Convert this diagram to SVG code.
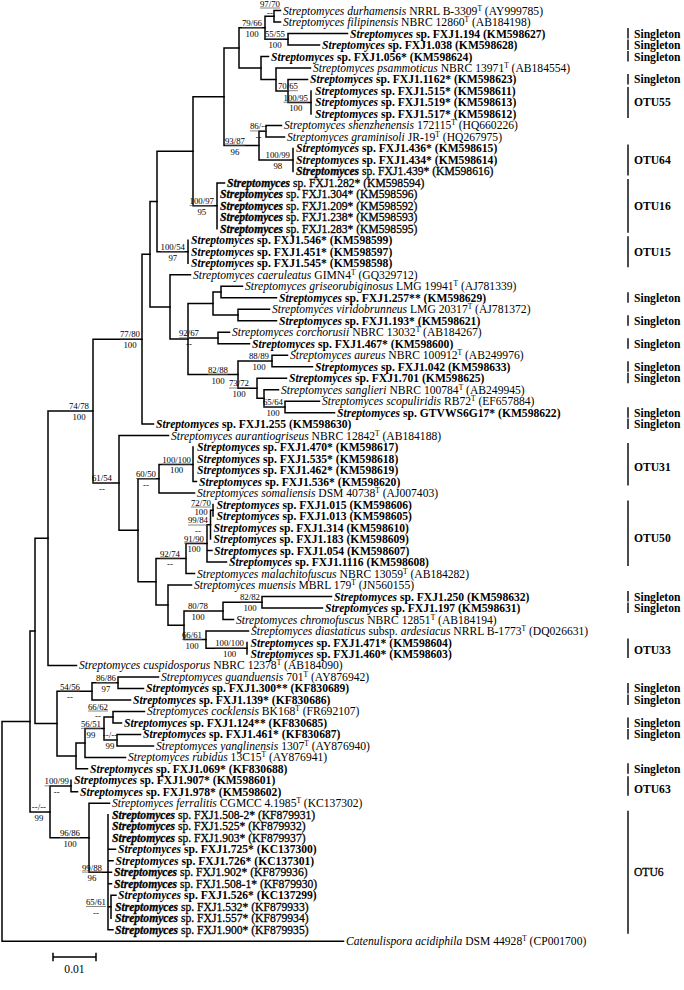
<svg xmlns="http://www.w3.org/2000/svg" width="684" height="990" viewBox="0 0 684 990">
<style>
text{font-family:"Liberation Serif","Times New Roman",serif;fill:#000}
.lf{font-size:11.6px}
.b{font-weight:bold}
.i{font-style:italic}
.m{stroke:#000;stroke-width:0.3}
.sp{font-size:7.4px}
.bs{font-size:8.8px;fill:#333}
.bs .lo{text-anchor:middle}
.bs .up{text-anchor:end}
.br{fill:none;stroke:#000;stroke-width:1.5;stroke-linecap:square}
.fb{stroke:#555;stroke-width:0.7}
.ob{stroke:#000;stroke-width:1.4}
.ol{font-size:11.6px;font-weight:bold}
</style>
<rect width="684" height="990" fill="#fff"/>
<g id="connectors" class="br">
<path d="M2 721.4V941.2M2 721.4H30M2 941.2H343.5"/>
<path d="M30 630.9V811.9M30 630.9H35M30 811.9H50"/>
<path d="M35 538.2V723.6M35 538.2H48M35 723.6H57"/>
<path d="M48 411V665.4M48 411H93M48 665.4H76.5"/>
<path d="M93 339.2V482.9M93 339.2H142M93 482.9H119"/>
<path d="M142 254.2V424.1M142 254.2H150M142 424.1H153.5"/>
<path d="M150 201.5V306.9M150 201.5H157M150 306.9H170"/>
<path d="M157 151.3V251.8M157 151.3H193M157 251.8H188"/>
<path d="M193 96.7V205.8M193 96.7H224M193 205.8H217"/>
<path d="M224 47.9V145.5M224 47.9H239M224 145.5H259"/>
<path d="M239 27.7V68M239 27.7H265M239 68H261"/>
<path d="M265 16.3V39.2M265 16.3H274M265 39.2H288"/>
<path d="M274 10.5V22M274 10.5H280.5M274 22H280.5"/>
<path d="M288 33.5V45M288 33.5H347.5M288 45H319.5"/>
<path d="M261 56.5V79.4M261 56.5H268.5M261 79.4H276"/>
<path d="M276 68V90.9M276 68H310.5M276 90.9H288"/>
<path d="M288 79.4V102.4M288 79.4H307.5M288 102.4H311"/>
<path d="M311 90.9V113.9"/>
<path d="M259 131.2V159.9M259 131.2H266M259 159.9H293"/>
<path d="M266 125.4V136.9M266 125.4H281.5M266 136.9H284.5"/>
<path d="M293 148.4V171.4"/>
<path d="M217 182.9V228.8M217 182.9H224.5"/>
<path d="M188 240.3V263.3"/>
<path d="M170 274.8V339.1M170 274.8H190.5M170 339.1H188"/>
<path d="M188 303.5V374.6M188 303.5H213M188 338H218M188 374.6H238"/>
<path d="M213 292V315M213 292H221M213 315H238"/>
<path d="M221 286.3V297.8M221 286.3H242.5M221 297.8H276.5"/>
<path d="M238 309.2V320.7M238 309.2H269.5M238 320.7H276.5"/>
<path d="M218 332.2V343.7M218 332.2H229.5M218 343.7H249.5"/>
<path d="M238 361V388.2M238 361H272M238 388.2H257"/>
<path d="M272 355.2V366.7M272 355.2H287.5M272 366.7H312.5"/>
<path d="M257 378.2V398.3M257 378.2H286.5M257 398.3H264"/>
<path d="M264 389.7V406.9M264 389.7H278.5M264 406.9H285"/>
<path d="M285 401.2V412.7M285 401.2H319.5M285 412.7H334.5"/>
<path d="M119 435.6V530.3M119 435.6H168.5M119 530.3H138"/>
<path d="M138 478.7V581.8M138 478.7H159M138 581.8H156"/>
<path d="M159 464.4V493.1M159 464.4H193M159 493.1H194.5"/>
<path d="M193 447.1V481.6M193 481.6H196.5"/>
<path d="M156 558.4V605.1M156 558.4H186M156 605.1H168"/>
<path d="M186 543.4V573.5M186 543.4H207M186 573.5H194.5"/>
<path d="M207 524.7V562M207 524.7H210.5M207 550.5H212M207 562H226.5"/>
<path d="M210.5 510.3V539M210.5 510.3H213"/>
<path d="M213 504.6V516.1"/>
<path d="M168 585V625.2M168 585H191.5M168 625.2H184"/>
<path d="M184 610.9V639.6M184 610.9H223M184 639.6H206"/>
<path d="M223 602.2V619.5M223 602.2H262M223 619.5H233.5"/>
<path d="M262 596.5V608M262 596.5H331.5M262 608H322.5"/>
<path d="M206 631V648.2M206 631H248.5M206 648.2H247"/>
<path d="M247 642.5V653.9"/>
<path d="M57 691.3V755.9M57 691.3H92M57 755.9H76"/>
<path d="M92 682.7V699.9M92 682.7H118M92 699.9H130.5"/>
<path d="M118 676.9V688.4M118 676.9H158.5M118 688.4H143.5"/>
<path d="M76 743V768.8M76 743H85M76 768.8H87.5"/>
<path d="M85 728.6V757.4M85 728.6H104M85 757.4H125.5"/>
<path d="M104 717.1V740.1M104 717.1H113M104 740.1H117"/>
<path d="M113 711.4V722.9M113 711.4H144.5M113 722.9H121.5"/>
<path d="M117 734.4V745.9M117 734.4H140.5M117 745.9H153.5"/>
<path d="M50 786.1V837.8M50 786.1H71M50 837.8H89"/>
<path d="M71 780.3V791.8M71 791.8H77.5"/>
<path d="M89 803.3V872.3M89 803.3H109.5M89 872.3H108"/>
<path d="M108 814.8V929.7M108 849.3H115.5M108 860.8H113M108 872.3H111.5M108 883.7H111.5M108 906.7H111M108 929.7H113"/>
<path d="M111 895.2V918.2M111 895.2H116"/>
</g>
<g id="leaves">
<g id="L01"><text class="lf" x="283" y="14.5"><tspan class="i">Streptomyces durhamensis</tspan> NRRL B-3309<tspan class="sp" dy="-4">T</tspan><tspan dy="4"> (AY999785)</tspan></text></g>
<g id="L02"><text class="lf" x="283" y="26"><tspan class="i">Streptomyces filipinensis</tspan> NBRC 12860<tspan class="sp" dy="-4">T</tspan><tspan dy="4"> (AB184198)</tspan></text></g>
<g id="L03"><text class="lf b" x="350" y="37.5"><tspan class="i">Streptomyces</tspan> sp. FXJ1.194 (KM598627)</text></g>
<g id="L04"><text class="lf b" x="322" y="49"><tspan class="i">Streptomyces</tspan> sp. FXJ1.038 (KM598628)</text></g>
<g id="L05"><text class="lf b" x="271" y="60.5"><tspan class="i">Streptomyces</tspan> sp. FXJ1.056* (KM598624)</text></g>
<g id="L06"><text class="lf" x="313" y="72"><tspan class="i">Streptomyces psammoticus</tspan> NBRC 13971<tspan class="sp" dy="-4">T</tspan><tspan dy="4"> (AB184554)</tspan></text></g>
<g id="L07"><text class="lf b" x="310" y="83.4"><tspan class="i">Streptomyces</tspan> sp. FXJ1.1162* (KM598623)</text></g>
<g id="L08"><text class="lf b" x="315" y="94.9"><tspan class="i">Streptomyces</tspan> sp. FXJ1.515* (KM598611)</text></g>
<g id="L09"><text class="lf b" x="315" y="106.4"><tspan class="i">Streptomyces</tspan> sp. FXJ1.519* (KM598613)</text></g>
<g id="L10"><text class="lf b" x="315" y="117.9"><tspan class="i">Streptomyces</tspan> sp. FXJ1.517* (KM598612)</text></g>
<g id="L11"><text class="lf" x="284" y="129.4"><tspan class="i">Streptomyces shenzhenensis</tspan> 172115<tspan class="sp" dy="-4">T</tspan><tspan dy="4"> (HQ660226)</tspan></text></g>
<g id="L12"><text class="lf" x="287" y="140.9"><tspan class="i">Streptomyces graminisoli</tspan> JR-19<tspan class="sp" dy="-4">T</tspan><tspan dy="4"> (HQ267975)</tspan></text></g>
<g id="L13"><text class="lf b" x="296" y="152.4"><tspan class="i">Streptomyces</tspan> sp. FXJ1.436* (KM598615)</text></g>
<g id="L14"><text class="lf b" x="296" y="163.9"><tspan class="i">Streptomyces</tspan> sp. FXJ1.434* (KM598614)</text></g>
<g id="L15"><text class="lf m" x="296" y="175.4"><tspan class="b i">Streptomyces</tspan> sp. FXJ1.439* (KM598616)</text></g>
<g id="L16"><text class="lf m" x="227" y="186.9"><tspan class="b i">Streptomyces</tspan> sp. FXJ1.282* (KM598594)</text></g>
<g id="L17"><text class="lf m" x="220" y="198.3"><tspan class="b i">Streptomyces</tspan> sp. FXJ1.304* (KM598596)</text></g>
<g id="L18"><text class="lf m" x="220" y="209.8"><tspan class="b i">Streptomyces</tspan> sp. FXJ1.209* (KM598592)</text></g>
<g id="L19"><text class="lf m" x="220" y="221.3"><tspan class="b i">Streptomyces</tspan> sp. FXJ1.238* (KM598593)</text></g>
<g id="L20"><text class="lf m" x="220" y="232.8"><tspan class="b i">Streptomyces</tspan> sp. FXJ1.283* (KM598595)</text></g>
<g id="L21"><text class="lf b" x="191" y="244.3"><tspan class="i">Streptomyces</tspan> sp. FXJ1.546* (KM598599)</text></g>
<g id="L22"><text class="lf b" x="191" y="255.8"><tspan class="i">Streptomyces</tspan> sp. FXJ1.451* (KM598597)</text></g>
<g id="L23"><text class="lf b" x="191" y="267.3"><tspan class="i">Streptomyces</tspan> sp. FXJ1.545* (KM598598)</text></g>
<g id="L24"><text class="lf" x="193" y="278.8"><tspan class="i">Streptomyces caeruleatus</tspan> GIMN4<tspan class="sp" dy="-4">T</tspan><tspan dy="4"> (GQ329712)</tspan></text></g>
<g id="L25"><text class="lf" x="245" y="290.3"><tspan class="i">Streptomyces griseorubiginosus</tspan> LMG 19941<tspan class="sp" dy="-4">T</tspan><tspan dy="4"> (AJ781339)</tspan></text></g>
<g id="L26"><text class="lf b" x="279" y="301.8"><tspan class="i">Streptomyces</tspan> sp. FXJ1.257** (KM598629)</text></g>
<g id="L27"><text class="lf" x="272" y="313.2"><tspan class="i">Streptomyces viridobrunneus</tspan> LMG 20317<tspan class="sp" dy="-4">T</tspan><tspan dy="4"> (AJ781372)</tspan></text></g>
<g id="L28"><text class="lf b" x="279" y="324.7"><tspan class="i">Streptomyces</tspan> sp. FXJ1.193* (KM598621)</text></g>
<g id="L29"><text class="lf" x="232" y="336.2"><tspan class="i">Streptomyces corchorusii</tspan> NBRC 13032<tspan class="sp" dy="-4">T</tspan><tspan dy="4"> (AB184267)</tspan></text></g>
<g id="L30"><text class="lf b" x="252" y="347.7"><tspan class="i">Streptomyces</tspan> sp. FXJ1.467* (KM598600)</text></g>
<g id="L31"><text class="lf" x="290" y="359.2"><tspan class="i">Streptomyces aureus</tspan> NBRC 100912<tspan class="sp" dy="-4">T</tspan><tspan dy="4"> (AB249976)</tspan></text></g>
<g id="L32"><text class="lf b" x="315" y="370.7"><tspan class="i">Streptomyces</tspan> sp. FXJ1.042 (KM598633)</text></g>
<g id="L33"><text class="lf b" x="289" y="382.2"><tspan class="i">Streptomyces</tspan> sp. FXJ1.701 (KM598625)</text></g>
<g id="L34"><text class="lf" x="281" y="393.7"><tspan class="i">Streptomyces sanglieri</tspan> NBRC 100784<tspan class="sp" dy="-4">T</tspan><tspan dy="4"> (AB249945)</tspan></text></g>
<g id="L35"><text class="lf" x="322" y="405.2"><tspan class="i">Streptomyces scopuliridis</tspan> RB72<tspan class="sp" dy="-4">T</tspan><tspan dy="4"> (EF657884)</tspan></text></g>
<g id="L36"><text class="lf b" x="337" y="416.7"><tspan class="i">Streptomyces</tspan> sp. GTVWS6G17* (KM598622)</text></g>
<g id="L37"><text class="lf b" x="156" y="428.1"><tspan class="i">Streptomyces</tspan> sp. FXJ1.255 (KM598630)</text></g>
<g id="L38"><text class="lf" x="171" y="439.6"><tspan class="i">Streptomyces aurantiogriseus</tspan> NBRC 12842<tspan class="sp" dy="-4">T</tspan><tspan dy="4"> (AB184188)</tspan></text></g>
<g id="L39"><text class="lf b" x="197" y="451.1"><tspan class="i">Streptomyces</tspan> sp. FXJ1.470* (KM598617)</text></g>
<g id="L40"><text class="lf b" x="197" y="462.6"><tspan class="i">Streptomyces</tspan> sp. FXJ1.535* (KM598618)</text></g>
<g id="L41"><text class="lf b" x="197" y="474.1"><tspan class="i">Streptomyces</tspan> sp. FXJ1.462* (KM598619)</text></g>
<g id="L42"><text class="lf b" x="199" y="485.6"><tspan class="i">Streptomyces</tspan> sp. FXJ1.536* (KM598620)</text></g>
<g id="L43"><text class="lf" x="197" y="497.1"><tspan class="i">Streptomyces somaliensis</tspan> DSM 40738<tspan class="sp" dy="-4">T</tspan><tspan dy="4"> (AJ007403)</tspan></text></g>
<g id="L44"><text class="lf b" x="216.5" y="508.6"><tspan class="i">Streptomyces</tspan> sp. FXJ1.015 (KM598606)</text></g>
<g id="L45"><text class="lf b" x="216.5" y="520.1"><tspan class="i">Streptomyces</tspan> sp. FXJ1.013 (KM598605)</text></g>
<g id="L46"><text class="lf b" x="213.5" y="531.6"><tspan class="i">Streptomyces</tspan> sp. FXJ1.314 (KM598610)</text></g>
<g id="L47"><text class="lf b" x="213.5" y="543"><tspan class="i">Streptomyces</tspan> sp. FXJ1.183 (KM598609)</text></g>
<g id="L48"><text class="lf b" x="214" y="554.5"><tspan class="i">Streptomyces</tspan> sp. FXJ1.054 (KM598607)</text></g>
<g id="L49"><text class="lf b" x="229" y="566"><tspan class="i">Streptomyces</tspan> sp. FXJ1.1116 (KM598608)</text></g>
<g id="L50"><text class="lf" x="197" y="577.5"><tspan class="i">Streptomyces malachitofuscus</tspan> NBRC 13059<tspan class="sp" dy="-4">T</tspan><tspan dy="4"> (AB184282)</tspan></text></g>
<g id="L51"><text class="lf" x="194" y="589"><tspan class="i">Streptomyces muensis</tspan> MBRL 179<tspan class="sp" dy="-4">T</tspan><tspan dy="4"> (JN560155)</tspan></text></g>
<g id="L52"><text class="lf b" x="334" y="600.5"><tspan class="i">Streptomyces</tspan> sp. FXJ1.250 (KM598632)</text></g>
<g id="L53"><text class="lf b" x="325" y="612"><tspan class="i">Streptomyces</tspan> sp. FXJ1.197 (KM598631)</text></g>
<g id="L54"><text class="lf" x="236" y="623.5"><tspan class="i">Streptomyces chromofuscus</tspan> NBRC 12851<tspan class="sp" dy="-4">T</tspan><tspan dy="4"> (AB184194)</tspan></text></g>
<g id="L55"><text class="lf" x="251" y="635"><tspan class="i">Streptomyces diastaticus</tspan> subsp. <tspan class="i">ardesiacus</tspan> NRRL B-1773<tspan class="sp" dy="-4">T</tspan><tspan dy="4"> (DQ026631)</tspan></text></g>
<g id="L56"><text class="lf b" x="250.5" y="646.5"><tspan class="i">Streptomyces</tspan> sp. FXJ1.471* (KM598604)</text></g>
<g id="L57"><text class="lf b" x="250.5" y="657.9"><tspan class="i">Streptomyces</tspan> sp. FXJ1.460* (KM598603)</text></g>
<g id="L58"><text class="lf" x="79" y="669.4"><tspan class="i">Streptomyces cuspidosporus</tspan> NBRC 12378<tspan class="sp" dy="-4">T</tspan><tspan dy="4"> (AB184090)</tspan></text></g>
<g id="L59"><text class="lf" x="161" y="680.9"><tspan class="i">Streptomyces guanduensis</tspan> 701<tspan class="sp" dy="-4">T</tspan><tspan dy="4"> (AY876942)</tspan></text></g>
<g id="L60"><text class="lf b" x="146" y="692.4"><tspan class="i">Streptomyces</tspan> sp. FXJ1.300** (KF830689)</text></g>
<g id="L61"><text class="lf b" x="133" y="703.9"><tspan class="i">Streptomyces</tspan> sp. FXJ1.139* (KF830686)</text></g>
<g id="L62"><text class="lf" x="147" y="715.4"><tspan class="i">Streptomyces cocklensis</tspan> BK168<tspan class="sp" dy="-4">T</tspan><tspan dy="4"> (FR692107)</tspan></text></g>
<g id="L63"><text class="lf b" x="124" y="726.9"><tspan class="i">Streptomyces</tspan> sp. FXJ1.124** (KF830685)</text></g>
<g id="L64"><text class="lf b" x="143" y="738.4"><tspan class="i">Streptomyces</tspan> sp. FXJ1.461* (KF830687)</text></g>
<g id="L65"><text class="lf" x="156" y="749.9"><tspan class="i">Streptomyces yanglinensis</tspan> 1307<tspan class="sp" dy="-4">T</tspan><tspan dy="4"> (AY876940)</tspan></text></g>
<g id="L66"><text class="lf" x="128" y="761.4"><tspan class="i">Streptomyces rubidus</tspan> 13C15<tspan class="sp" dy="-4">T</tspan><tspan dy="4"> (AY876941)</tspan></text></g>
<g id="L67"><text class="lf b" x="90" y="772.8"><tspan class="i">Streptomyces</tspan> sp. FXJ1.069* (KF830688)</text></g>
<g id="L68"><text class="lf b" x="74" y="784.3"><tspan class="i">Streptomyces</tspan> sp. FXJ1.907* (KM598601)</text></g>
<g id="L69"><text class="lf b" x="80" y="795.8"><tspan class="i">Streptomyces</tspan> sp. FXJ1.978* (KM598602)</text></g>
<g id="L70"><text class="lf" x="112" y="807.3"><tspan class="i">Streptomyces ferralitis</tspan> CGMCC 4.1985<tspan class="sp" dy="-4">T</tspan><tspan dy="4"> (KC137302)</tspan></text></g>
<g id="L71"><text class="lf m" x="112" y="818.8"><tspan class="b i">Streptomyces</tspan> sp. FXJ1.508-2* (KF879931)</text></g>
<g id="L72"><text class="lf m" x="112" y="830.3"><tspan class="b i">Streptomyces</tspan> sp. FXJ1.525* (KF879932)</text></g>
<g id="L73"><text class="lf m" x="112" y="841.8"><tspan class="b i">Streptomyces</tspan> sp. FXJ1.903* (KF879937)</text></g>
<g id="L74"><text class="lf b" x="118" y="853.3"><tspan class="i">Streptomyces</tspan> sp. FXJ1.725* (KC137300)</text></g>
<g id="L75"><text class="lf b" x="115.5" y="864.8"><tspan class="i">Streptomyces</tspan> sp. FXJ1.726* (KC137301)</text></g>
<g id="L76"><text class="lf m" x="114" y="876.3"><tspan class="b i">Streptomyces</tspan> sp. FXJ1.902* (KF879936)</text></g>
<g id="L77"><text class="lf m" x="114" y="887.7"><tspan class="b i">Streptomyces</tspan> sp. FXJ1.508-1* (KF879930)</text></g>
<g id="L78"><text class="lf b" x="118" y="899.2"><tspan class="i">Streptomyces</tspan> sp. FXJ1.526* (KC137299)</text></g>
<g id="L79"><text class="lf m" x="115" y="910.7"><tspan class="b i">Streptomyces</tspan> sp. FXJ1.532* (KF879933)</text></g>
<g id="L80"><text class="lf m" x="115" y="922.2"><tspan class="b i">Streptomyces</tspan> sp. FXJ1.557* (KF879934)</text></g>
<g id="L81"><text class="lf m" x="115" y="933.7"><tspan class="b i">Streptomyces</tspan> sp. FXJ1.900* (KF879935)</text></g>
<g id="L82"><text class="lf" x="346" y="945.2"><tspan class="i">Catenulispora acidiphila</tspan> DSM 44928<tspan class="sp" dy="-4">T</tspan><tspan dy="4"> (CP001700)</tspan></text></g>
</g>
<g id="support" class="bs">
<g id="s-n1"><text class="up" x="280" y="6.5">97/70</text><line class="fb" x1="260" y1="8" x2="280" y2="8"/><text class="lo" x="270" y="15.5">--</text></g>
<g id="s-n3"><text class="up" x="262" y="25.9">79/66</text><line class="fb" x1="242" y1="27.5" x2="262" y2="27.5"/><text class="lo" x="252" y="36.7">100</text></g>
<g id="s-n2"><text class="up" x="285" y="37.4">55/55</text><line class="fb" x1="265" y1="39" x2="285" y2="39"/><text class="lo" x="275" y="48.2">100</text></g>
<g id="s-n5"><text class="up" x="298" y="89.1">70/65</text><line class="fb" x1="278" y1="90.7" x2="298" y2="90.7"/></g>
<g id="s-n4"><text class="up" x="308" y="100.6">100/95</text><line class="fb" x1="283.5" y1="102.2" x2="308" y2="102.2"/><text class="lo" x="295.8" y="111.4">100</text></g>
<g id="s-n9"><text class="up" x="267" y="129.3">86/--</text><line class="fb" x1="250" y1="130.9" x2="267" y2="130.9"/><text class="lo" x="258.5" y="140.2">--</text></g>
<g id="s-n11"><text class="up" x="245" y="143.7">93/87</text><line class="fb" x1="225" y1="145.3" x2="245" y2="145.3"/><text class="lo" x="235" y="154.5">96</text></g>
<g id="s-n10"><text class="up" x="290" y="158">100/99</text><line class="fb" x1="265.5" y1="159.6" x2="290" y2="159.6"/><text class="lo" x="277.8" y="168.9">98</text></g>
<g id="s-n13"><text class="up" x="214" y="204">100/97</text><line class="fb" x1="189.5" y1="205.6" x2="214" y2="205.6"/><text class="lo" x="201.8" y="214.8">95</text></g>
<g id="s-n15"><text class="up" x="185" y="250">100/54</text><line class="fb" x1="160.5" y1="251.6" x2="185" y2="251.6"/><text class="lo" x="172.8" y="260.8">97</text></g>
<g id="s-n21"><text class="up" x="199" y="336.2">92/67</text><line class="fb" x1="179" y1="337.8" x2="199" y2="337.8"/><text class="lo" x="189" y="347">--</text></g>
<g id="s-n26"><text class="up" x="269" y="359.1">88/89</text><line class="fb" x1="249" y1="360.7" x2="269" y2="360.7"/><text class="lo" x="259" y="370">100</text></g>
<g id="s-n25"><text class="up" x="228" y="372.8">82/88</text><line class="fb" x1="208" y1="374.4" x2="228" y2="374.4"/><text class="lo" x="218" y="383.6">100</text></g>
<g id="s-n27"><text class="up" x="249" y="386.4">73/72</text><line class="fb" x1="229" y1="388" x2="249" y2="388"/><text class="lo" x="239" y="397.2">100</text></g>
<g id="s-n29"><text class="up" x="283" y="405.1">65/64</text><line class="fb" x1="263" y1="406.7" x2="283" y2="406.7"/><text class="lo" x="273" y="415.9">100</text></g>
<g id="s-n7780"><text class="up" x="140" y="337.4">77/80</text><line class="fb" x1="120" y1="339" x2="140" y2="339"/><text class="lo" x="130" y="348.2">100</text></g>
<g id="s-n7478"><text class="up" x="89" y="409.2">74/78</text><line class="fb" x1="69" y1="410.8" x2="89" y2="410.8"/><text class="lo" x="79" y="420">100</text></g>
<g id="s-n31"><text class="up" x="191" y="462.6">100/100</text><line class="fb" x1="162" y1="464.2" x2="191" y2="464.2"/><text class="lo" x="176.6" y="473.4">100</text></g>
<g id="s-n6050"><text class="up" x="156" y="476.9">60/50</text><line class="fb" x1="136" y1="478.5" x2="156" y2="478.5"/><text class="lo" x="146" y="487.7">--</text></g>
<g id="s-n6154"><text class="up" x="112" y="481.1">61/54</text><line class="fb" x1="92" y1="482.7" x2="112" y2="482.7"/><text class="lo" x="102" y="491.9">--</text></g>
<g id="s-n7270"><text class="up" x="211" y="505.5">72/70</text><line class="fb" x1="191" y1="507" x2="211" y2="507"/><text class="lo" x="201" y="515">100</text></g>
<g id="s-n9984"><text class="up" x="208" y="523.4">99/84</text><line class="fb" x1="188" y1="525" x2="208" y2="525"/><text class="lo" x="198" y="534">--</text></g>
<g id="s-n9190"><text class="up" x="204" y="541.5">91/90</text><line class="fb" x1="184" y1="543.1" x2="204" y2="543.1"/><text class="lo" x="194" y="552.3">100</text></g>
<g id="s-n9274"><text class="up" x="180" y="556.6">92/74</text><line class="fb" x1="160" y1="558.2" x2="180" y2="558.2"/><text class="lo" x="170" y="567.4">--</text></g>
<g id="s-n8282"><text class="up" x="260" y="600.4">82/82</text><line class="fb" x1="240" y1="602" x2="260" y2="602"/><text class="lo" x="250" y="611.2">100</text></g>
<g id="s-n8078"><text class="up" x="208" y="609">80/78</text><line class="fb" x1="188" y1="610.6" x2="208" y2="610.6"/><text class="lo" x="198" y="619.8">100</text></g>
<g id="s-n6661"><text class="up" x="202" y="637.8">66/61</text><line class="fb" x1="182" y1="639.4" x2="202" y2="639.4"/><text class="lo" x="192" y="648.6">100</text></g>
<g id="s-n33"><text class="up" x="244" y="646.4">100/100</text><line class="fb" x1="215" y1="648" x2="244" y2="648"/><text class="lo" x="229.6" y="657.2">100</text></g>
<g id="s-n8686"><text class="up" x="116" y="680.9">86/86</text><line class="fb" x1="96" y1="682.5" x2="116" y2="682.5"/><text class="lo" x="106" y="691.7">97</text></g>
<g id="s-n5456"><text class="up" x="80" y="689.5">54/56</text><line class="fb" x1="60" y1="691.1" x2="80" y2="691.1"/><text class="lo" x="70" y="700.3">--</text></g>
<g id="s-n6662"><text class="up" x="108" y="709.5">66/62</text><line class="fb" x1="88" y1="711" x2="108" y2="711"/><text class="lo" x="98" y="718.5">--</text></g>
<g id="s-n5651"><text class="up" x="101" y="726.8">56/51</text><line class="fb" x1="81" y1="728.4" x2="101" y2="728.4"/><text class="lo" x="91" y="737.6">99</text></g>
<g id="s-n461"><text class="up" x="117" y="738.3">--/--</text><line class="fb" x1="103" y1="739.9" x2="117" y2="739.9"/><text class="lo" x="110" y="749.1">99</text></g>
<g id="s-n63"><text class="up" x="69" y="784.3">100/99</text><line class="fb" x1="44.5" y1="785.9" x2="69" y2="785.9"/><text class="lo" x="56.8" y="795.1">--</text></g>
<g id="s-nF"><text class="up" x="46" y="810.1">--/--</text><line class="fb" x1="32" y1="811.7" x2="46" y2="811.7"/><text class="lo" x="39" y="820.9">99</text></g>
<g id="s-n9686"><text class="up" x="80" y="836">96/86</text><line class="fb" x1="60" y1="837.6" x2="80" y2="837.6"/><text class="lo" x="70" y="846.8">100</text></g>
<g id="s-n6"><text class="up" x="102" y="870.5">99/88</text><line class="fb" x1="82" y1="872.1" x2="102" y2="872.1"/><text class="lo" x="92" y="881.3">96</text></g>
<g id="s-n6561"><text class="up" x="106" y="904.9">65/61</text><line class="fb" x1="86" y1="906.5" x2="106" y2="906.5"/><text class="lo" x="96" y="915.7">--</text></g>
</g>
<g id="otus">
<g id="single-L03"><line class="ob" x1="628" y1="28" x2="628" y2="38.5"/><text class="ol" x="634" y="37.5">Singleton</text></g>
<g id="single-L04"><line class="ob" x1="628" y1="39.5" x2="628" y2="50"/><text class="ol" x="634" y="49">Singleton</text></g>
<g id="single-L05"><line class="ob" x1="628" y1="51" x2="628" y2="61.5"/><text class="ol" x="634" y="60.5">Singleton</text></g>
<g id="single-L07"><line class="ob" x1="628" y1="74" x2="628" y2="84.5"/><text class="ol" x="634" y="83.4">Singleton</text></g>
<g id="otu55"><line class="ob" x1="628" y1="86.9" x2="628" y2="117.9"/><text class="ol" x="634" y="106.4">OTU55</text></g>
<g id="otu64"><line class="ob" x1="628" y1="144.4" x2="628" y2="175.4"/><text class="ol" x="634" y="163.9">OTU64</text></g>
<g id="otu16"><line class="ob" x1="628" y1="178.9" x2="628" y2="232.8"/><text class="ol" x="634" y="209.8">OTU16</text></g>
<g id="otu15"><line class="ob" x1="628" y1="236.3" x2="628" y2="267.3"/><text class="ol" x="634" y="255.8">OTU15</text></g>
<g id="single-L26"><line class="ob" x1="628" y1="292.3" x2="628" y2="302.8"/><text class="ol" x="634" y="301.8">Singleton</text></g>
<g id="single-L28"><line class="ob" x1="628" y1="315.2" x2="628" y2="325.7"/><text class="ol" x="634" y="324.7">Singleton</text></g>
<g id="single-L30"><line class="ob" x1="628" y1="338.2" x2="628" y2="348.7"/><text class="ol" x="634" y="347.7">Singleton</text></g>
<g id="single-L32"><line class="ob" x1="628" y1="361.2" x2="628" y2="371.7"/><text class="ol" x="634" y="370.7">Singleton</text></g>
<g id="single-L33"><line class="ob" x1="628" y1="372.7" x2="628" y2="383.2"/><text class="ol" x="634" y="382.2">Singleton</text></g>
<g id="single-L36"><line class="ob" x1="628" y1="407.2" x2="628" y2="417.7"/><text class="ol" x="634" y="416.7">Singleton</text></g>
<g id="single-L37"><line class="ob" x1="628" y1="418.6" x2="628" y2="429.1"/><text class="ol" x="634" y="428.1">Singleton</text></g>
<g id="otu31"><line class="ob" x1="628" y1="443.1" x2="628" y2="485.6"/><text class="ol" x="634" y="471">OTU31</text></g>
<g id="otu50"><line class="ob" x1="628" y1="500.6" x2="628" y2="566"/><text class="ol" x="634" y="542">OTU50</text></g>
<g id="single-L52"><line class="ob" x1="628" y1="591" x2="628" y2="601.5"/><text class="ol" x="634" y="600.5">Singleton</text></g>
<g id="single-L53"><line class="ob" x1="628" y1="602.5" x2="628" y2="613"/><text class="ol" x="634" y="612">Singleton</text></g>
<g id="otu33"><line class="ob" x1="628" y1="638.5" x2="628" y2="658"/><text class="ol" x="634" y="654">OTU33</text></g>
<g id="single-L60"><line class="ob" x1="628" y1="682.9" x2="628" y2="693.4"/><text class="ol" x="634" y="692.4">Singleton</text></g>
<g id="single-L61"><line class="ob" x1="628" y1="694.4" x2="628" y2="704.9"/><text class="ol" x="634" y="703.9">Singleton</text></g>
<g id="single-L63"><line class="ob" x1="628" y1="717.4" x2="628" y2="727.9"/><text class="ol" x="634" y="726.9">Singleton</text></g>
<g id="single-L64"><line class="ob" x1="628" y1="728.9" x2="628" y2="739.4"/><text class="ol" x="634" y="738.4">Singleton</text></g>
<g id="single-L67"><line class="ob" x1="628" y1="763.3" x2="628" y2="773.8"/><text class="ol" x="634" y="772.8">Singleton</text></g>
<g id="otu63"><line class="ob" x1="628" y1="776.3" x2="628" y2="795.8"/><text class="ol" x="634" y="793">OTU63</text></g>
<g id="otu6"><line class="ob" x1="628" y1="810.8" x2="628" y2="933.7"/><text class="lf m" x="634" y="876.3">OTU6</text></g>
</g>
<g id="scalebar">
<path class="br" d="M53 957H96M53 953.5V960.5M96 953.5V960.5"/>
<text class="lf" x="74.5" y="973" text-anchor="middle">0.01</text>
</g>
</svg>
